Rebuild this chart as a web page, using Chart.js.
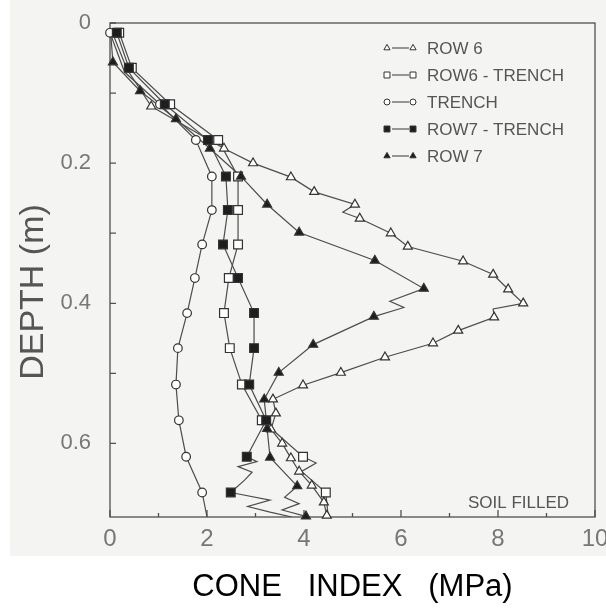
<!DOCTYPE html>
<html>
<head>
<meta charset="utf-8">
<script src="https://cdn.jsdelivr.net/npm/chart.js@4.4.1/dist/chart.umd.min.js"></script>
<style>
  html, body { margin: 0; padding: 0; background: #fff; }
</style>
</head>
<body>
<canvas id="canvas" width="606" height="608"></canvas>
<script>
  // axis ticks
  var xTicks = [0, 2, 4, 6, 8, 10];
  var xMinorTicks = [1, 3, 5, 7, 9];
  var yTicks = [0, 0.2, 0.4, 0.6];
  var yMinorTicks = [0.1, 0.3, 0.5];

  // ROW 6 (open triangles)
  var row6Cone  = [0.85, 2.35, 2.95, 3.73, 4.21, 5.05, 5.15, 5.79, 6.14, 7.28, 7.90, 8.21, 8.52, 7.92, 7.18, 6.66, 5.67, 4.76, 3.98, 3.36, 3.42, 3.32, 3.55, 3.73, 3.90, 4.16, 4.41, 4.47];
  var row6Depth = [0.119, 0.179, 0.200, 0.220, 0.241, 0.259, 0.279, 0.300, 0.319, 0.340, 0.359, 0.380, 0.400, 0.420, 0.439, 0.457, 0.477, 0.499, 0.517, 0.537, 0.557, 0.580, 0.600, 0.621, 0.640, 0.660, 0.684, 0.703];
  var row6TraceCone  = [0.05, 0.35, 4.80, 7.90];
  var row6TraceDepth = [0.014, 0.066, 0.270, 0.408];

  // ROW6 - TRENCH (open squares)
  var row6TrCone  = [0.19, 0.45, 1.24, 2.23, 2.64, 2.64, 2.64, 2.45, 2.35, 2.47, 2.72, 3.13, 3.98, 4.45];
  var row6TrDepth = [0.014, 0.064, 0.116, 0.167, 0.219, 0.267, 0.316, 0.364, 0.414, 0.464, 0.516, 0.567, 0.619, 0.670];
  var row6TrTraceCone  = [4.25, 3.95, 4.50];
  var row6TrTraceDepth = [0.628, 0.640, 0.705];

  // TRENCH (open circles)
  var trenchCone  = [0.00, 1.03, 1.77, 2.10, 2.10, 1.90, 1.75, 1.59, 1.40, 1.36, 1.42, 1.57, 1.90];
  var trenchDepth = [0.014, 0.116, 0.167, 0.219, 0.267, 0.316, 0.364, 0.414, 0.464, 0.516, 0.567, 0.619, 0.670];
  var trenchTraceCone  = [0.30, 2.00];
  var trenchTraceDepth = [0.070, 0.705];

  // ROW7 - TRENCH (filled squares)
  var row7TrCone  = [0.14, 0.39, 1.13, 2.02, 2.39, 2.43, 2.33, 2.64, 2.97, 2.97, 2.87, 3.22, 2.82, 2.49];
  var row7TrDepth = [0.014, 0.064, 0.116, 0.167, 0.219, 0.267, 0.316, 0.364, 0.414, 0.464, 0.516, 0.567, 0.619, 0.670];
  var row7TrTraceCone  = [3.03, 2.64, 2.93, 2.78, 3.30, 2.84, 3.30, 3.75];
  var row7TrTraceDepth = [0.626, 0.633, 0.641, 0.652, 0.681, 0.690, 0.698, 0.705];

  // ROW 7 (filled triangles)
  var row7Cone  = [0.06, 0.62, 1.36, 2.06, 2.70, 3.24, 3.90, 5.46, 6.47, 5.44, 4.19, 3.48, 3.18, 3.24, 3.30, 3.86, 4.04];
  var row7Depth = [0.056, 0.097, 0.137, 0.179, 0.219, 0.259, 0.299, 0.339, 0.379, 0.419, 0.459, 0.499, 0.537, 0.579, 0.620, 0.661, 0.704];
  var row7TraceCone  = [0.02, 5.77, 6.06, 3.60, 3.90, 3.55];
  var row7TraceDepth = [0.020, 0.397, 0.406, 0.677, 0.686, 0.695];

  var xTitle = 'CONE   INDEX   (MPa)';
  var yTitle = 'DEPTH (m)';
  var note = 'SOIL FILLED';

  var FONT = '"Liberation Sans", Arial, sans-serif';
  var lineColor = '#4d4d4d';
  var markEdge = '#333';

  function marks(cone, depth) {
    return cone.map(function (c, i) { return { x: c, y: depth[i] }; });
  }
  function profile(cone, depth, tc, td) {
    var pts = marks(cone, depth).concat(marks(tc, td));
    return pts.sort(function (a, b) { return a.y - b.y; });
  }

  var series = [
    { label: 'ROW 6', style: 'triangle', filled: false, r: 5.2, lr: 3.6,
      cone: row6Cone, depth: row6Depth, tc: row6TraceCone, td: row6TraceDepth },
    { label: 'ROW6 - TRENCH', style: 'rect', filled: false, r: 6.2, lr: 4.2,
      cone: row6TrCone, depth: row6TrDepth, tc: row6TrTraceCone, td: row6TrTraceDepth },
    { label: 'TRENCH', style: 'circle', filled: false, r: 4.3, lr: 3.0,
      cone: trenchCone, depth: trenchDepth, tc: trenchTraceCone, td: trenchTraceDepth },
    { label: 'ROW7 - TRENCH', style: 'rect', filled: true, r: 6.2, lr: 4.2,
      cone: row7TrCone, depth: row7TrDepth, tc: row7TrTraceCone, td: row7TrTraceDepth },
    { label: 'ROW 7', style: 'triangle', filled: true, r: 5.2, lr: 3.6,
      cone: row7Cone, depth: row7Depth, tc: row7TraceCone, td: row7TraceDepth }
  ];

  var datasets = [];
  series.forEach(function (s) {
    datasets.push({
      label: s.label + ' line',
      data: profile(s.cone, s.depth, s.tc, s.td),
      showLine: true,
      borderColor: lineColor,
      borderWidth: 1.2,
      pointRadius: 0,
      tension: 0,
      order: 10
    });
    datasets.push({
      label: s.label,
      data: marks(s.cone, s.depth),
      showLine: false,
      pointStyle: s.style,
      pointRadius: s.r,
      pointBorderWidth: 1.2,
      pointBorderColor: markEdge,
      pointBackgroundColor: s.filled ? '#1e1e1e' : '#ffffff',
      clip: false,
      order: s.filled ? 1 : 5
    });
  });

  var paper = {
    id: 'paper',
    beforeDraw: function (chart) {
      var ctx = chart.ctx;
      ctx.save();
      ctx.fillStyle = '#ffffff';
      ctx.fillRect(0, 0, chart.width, chart.height);
      ctx.fillStyle = '#f4f4f2';
      ctx.fillRect(10, 0, chart.width - 10, 556);
      ctx.restore();
    }
  };

  var frame = {
    id: 'frame',
    beforeDatasetsDraw: function (chart) {
      var ctx = chart.ctx, a = chart.chartArea;
      var xs = chart.scales.x, ys = chart.scales.y;
      ctx.save();
      ctx.strokeStyle = '#505050';
      ctx.lineWidth = 1.3;
      ctx.strokeRect(a.left, a.top, a.right - a.left, a.bottom - a.top);
      ctx.beginPath();
      xTicks.forEach(function (v) {
        var px = xs.getPixelForValue(v);
        ctx.moveTo(px, a.bottom); ctx.lineTo(px, a.bottom - 7);
      });
      xMinorTicks.forEach(function (v) {
        var px = xs.getPixelForValue(v);
        ctx.moveTo(px, a.bottom); ctx.lineTo(px, a.bottom - 4);
      });
      yTicks.concat(yMinorTicks).forEach(function (v) {
        var py = ys.getPixelForValue(v);
        ctx.moveTo(a.left, py); ctx.lineTo(a.left + 6, py);
      });
      ctx.stroke();
      ctx.restore();
    },
    afterDraw: function (chart) {
      var ctx = chart.ctx;
      ctx.save();
      // legend
      ctx.font = '17px ' + FONT;
      ctx.textBaseline = 'middle';
      ctx.textAlign = 'left';
      series.forEach(function (s, i) {
        var y = 48 + 27 * i;
        ctx.strokeStyle = '#555';
        ctx.lineWidth = 1.2;
        ctx.beginPath();
        ctx.moveTo(392, y); ctx.lineTo(409, y);
        ctx.stroke();
        [387, 413].forEach(function (x) {
          ctx.fillStyle = s.filled ? '#1e1e1e' : '#ffffff';
          ctx.strokeStyle = markEdge;
          ctx.lineWidth = 1;
          Chart.helpers.drawPoint(ctx, { pointStyle: s.style, radius: s.lr, borderWidth: 1, rotation: 0 }, x, y);
        });
        ctx.fillStyle = '#555';
        ctx.fillText(s.label, 427, y + 1);
      });
      // note
      ctx.font = '17px ' + FONT;
      ctx.fillStyle = '#555';
      ctx.fillText(note, 468, 503);
      // y title
      ctx.translate(34, 292);
      ctx.rotate(-Math.PI / 2);
      ctx.font = '34px ' + FONT;
      ctx.fillStyle = '#555';
      ctx.textAlign = 'center';
      ctx.fillText(yTitle, 0, 0);
      ctx.restore();
    }
  };

  new Chart(document.getElementById('canvas'), {
    type: 'scatter',
    data: { datasets: datasets },
    options: {
      responsive: false,
      animation: false,
      devicePixelRatio: 1,
      layout: { padding: { top: 23, right: 11, left: 0, bottom: 0 } },
      plugins: { legend: { display: false }, tooltip: { enabled: false } },
      scales: {
        x: {
          type: 'linear', min: 0, max: 10,
          afterBuildTicks: function (s) { s.ticks = xTicks.map(function (v) { return { value: v }; }); },
          afterFit: function (s) { s.height = 91; s.paddingLeft = 0; s.paddingRight = 0; },
          grid: { display: false, drawTicks: false },
          border: { display: false },
          ticks: { color: '#777', font: { family: FONT, size: 24 }, padding: 8, maxRotation: 0, autoSkip: false },
          title: { display: true, text: xTitle, color: '#000', font: { family: FONT, size: 31 }, padding: { top: 0, bottom: 2 } }
        },
        y: {
          type: 'linear', min: 0, max: 0.705, reverse: true,
          afterBuildTicks: function (s) { s.ticks = yTicks.map(function (v) { return { value: v }; }); },
          afterFit: function (s) { s.width = 110; s.paddingTop = 0; s.paddingBottom = 0; },
          grid: { display: false, drawTicks: false },
          border: { display: false },
          ticks: { color: '#777', font: { family: FONT, size: 22 }, padding: 19, autoSkip: false,
            callback: function (v) { return String(v); } }
        }
      }
    },
    plugins: [paper, frame]
  });
</script>
</body>
</html>
